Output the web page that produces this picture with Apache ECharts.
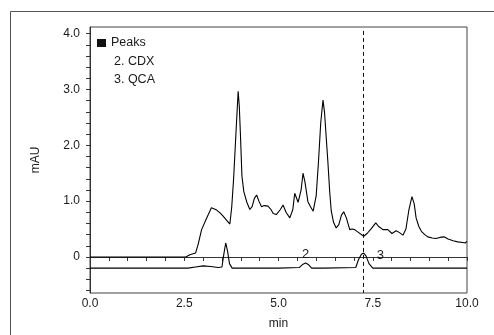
<!DOCTYPE html>
<html>
<head>
<meta charset="utf-8">
<script src="https://cdn.jsdelivr.net/npm/echarts@6/dist/echarts.min.js"></script>
<style>
  html, body { margin: 0; padding: 0; background: #fff; }
  #chart { width: 494px; height: 335px; }
</style>
</head>
<body>
<div id="chart"></div>
<script>
// upper trace (offset at 0 mAU)
const upperTime = [0, 2.54, 2.65, 2.8, 2.87, 2.96, 3.09, 3.22, 3.3, 3.36, 3.45, 3.53, 3.62, 3.71, 3.76, 3.81, 3.87,
  3.93, 3.96, 3.99, 4.03, 4.08, 4.16, 4.24, 4.3, 4.36, 4.42, 4.48, 4.55, 4.62, 4.72, 4.8, 4.86, 4.94, 5.05, 5.12,
  5.2, 5.3, 5.38, 5.43, 5.52, 5.6, 5.65, 5.7, 5.78, 5.85, 5.92, 6.0, 6.06, 6.12, 6.18, 6.22, 6.27, 6.31, 6.36,
  6.4, 6.46, 6.53, 6.6, 6.67, 6.73, 6.8, 6.89, 6.95, 7.02, 7.1, 7.15, 7.26, 7.35, 7.45, 7.58, 7.65, 7.77, 7.9,
  8.01, 8.12, 8.2, 8.3, 8.38, 8.46, 8.54, 8.6, 8.65, 8.72, 8.79, 8.88, 8.96, 9.08, 9.18, 9.28, 9.39, 9.5, 9.63,
  9.76, 9.89, 9.95, 10];
const upperAbs = [0, 0, 0.04, 0.07, 0.23, 0.49, 0.69, 0.88, 0.86, 0.84, 0.79, 0.73, 0.66, 0.59, 0.9, 1.41, 2.2,
  2.97, 2.7, 2.2, 1.45, 1.17, 0.98, 0.85, 0.9, 1.05, 1.11, 1.0, 0.9, 0.92, 0.91, 0.85, 0.78, 0.76, 0.85, 0.93,
  0.8, 0.7, 0.85, 1.14, 0.98, 1.2, 1.5, 1.35, 0.99, 0.9, 0.82, 1.1, 1.7, 2.4, 2.81, 2.6, 2.1, 1.7, 1.15,
  0.82, 0.62, 0.52, 0.58, 0.75, 0.81, 0.7, 0.49, 0.5, 0.49, 0.45, 0.43, 0.37, 0.42, 0.5, 0.61, 0.55, 0.49, 0.49,
  0.42, 0.47, 0.44, 0.39, 0.5, 0.85, 1.08, 0.95, 0.7, 0.55, 0.46, 0.4, 0.36, 0.34, 0.33, 0.35, 0.36, 0.32, 0.29,
  0.27, 0.26, 0.25, 0.28];

// lower trace (offset at -0.2 mAU)
const lowerTime = [0, 2.6, 2.8, 3.0, 3.2, 3.4, 3.5, 3.55, 3.6, 3.65, 3.7, 3.77, 3.85, 5.0, 5.55, 5.65, 5.72,
  5.8, 5.88, 6.2, 7.05, 7.12, 7.2, 7.26, 7.32, 7.4, 7.5, 10];
const lowerAbs = [-0.2, -0.2, -0.18, -0.16, -0.17, -0.19, -0.18, 0.05, 0.25, 0.1, -0.12, -0.2, -0.2, -0.2,
  -0.19, -0.13, -0.11, -0.14, -0.2, -0.2, -0.19, -0.05, 0.05, 0.07, 0.02, -0.12, -0.2, -0.2];

const peakNums = ['2', '3'];
const peakNames = ['2. CDX', '3. QCA'];
const peakLabelPos = [[5.72, 0.05], [7.7, 0.03]];
const markerTime = 7.25;

const xTicks = [];
for (let i = 0; i <= 20; i++) xTicks.push(i * 0.5);
const xLabels = [0, 2.5, 5, 7.5, 10];
const yTicks = [];
for (let i = -3; i <= 20; i++) yTicks.push(Math.round(i * 0.2 * 10) / 10);
const yLabels = [0, 1, 2, 3, 4];

const font = 'Liberation Sans, Arial, sans-serif';
const ink = '#1a1a1a';

const chart = echarts.init(document.getElementById('chart'));

const zip = (a, b) => a.map((t, i) => [t, b[i]]);

chart.setOption({
  backgroundColor: '#fff',
  animation: false,
  textStyle: { fontFamily: font },
  grid: { left: 90, right: 27, top: 27, bottom: 39, show: true, borderColor: '#444', borderWidth: 1 },
  xAxis: {
    type: 'value',
    min: 0,
    max: 10,
    name: 'min',
    nameLocation: 'middle',
    nameGap: 25,
    nameTextStyle: { color: ink, fontSize: 12, fontFamily: font },
    axisLine: { lineStyle: { color: '#333' } },
    axisTick: { customValues: xTicks, length: 4, lineStyle: { color: '#333' } },
    axisLabel: {
      customValues: xLabels,
      color: ink, fontSize: 12, fontFamily: font, margin: 5,
      formatter: (v) => v.toFixed(1)
    },
    splitLine: { show: false }
  },
  yAxis: {
    type: 'value',
    min: -0.646,
    max: 4.12,
    name: 'mAU',
    nameLocation: 'middle',
    nameGap: 48,
    nameTextStyle: { color: ink, fontSize: 12, fontFamily: font },
    axisLine: { show: true, lineStyle: { color: '#333' } },
    axisTick: { show: true, customValues: yTicks, length: 4, lineStyle: { color: '#333' } },
    axisLabel: {
      customValues: yLabels,
      color: ink, fontSize: 12, fontFamily: font, margin: 10,
      formatter: (v) => (v === 0 ? '0' : v.toFixed(1))
    },
    splitLine: { show: false }
  },
  series: [
    {
      name: 'upper',
      type: 'line',
      data: zip(upperTime, upperAbs),
      showSymbol: false,
      lineStyle: { color: '#000', width: 1.1 },
      markLine: {
        silent: true,
        symbol: 'none',
        label: { show: false },
        lineStyle: { color: '#111', width: 1, type: [4, 3] },
        data: [[{ coord: [markerTime, 4.05] }, { coord: [markerTime, -0.646] }]]
      }
    },
    {
      name: 'lower',
      type: 'line',
      data: zip(lowerTime, lowerAbs),
      showSymbol: false,
      lineStyle: { color: '#000', width: 1.1 },
      markPoint: {
        symbol: 'circle',
        symbolSize: 0,
        label: { show: true, color: ink, fontSize: 13, fontFamily: font, formatter: (p) => p.name },
        data: peakNums.map((n, i) => ({ name: n, coord: peakLabelPos[i] }))
      }
    }
  ],
  graphic: [
    { type: 'rect', shape: { x: 10.5, y: 11.5, width: 500, height: 340 }, style: { fill: 'none', stroke: '#555', lineWidth: 1 } },
    { type: 'rect', shape: { x: 97, y: 39, width: 9, height: 8 }, style: { fill: '#111' } },
    { type: 'text', x: 111, y: 43, style: { text: 'Peaks', font: '12.5px ' + font, fill: ink, verticalAlign: 'middle' } },
    { type: 'text', x: 114, y: 62, style: { text: peakNames[0], font: '12.5px ' + font, fill: ink, verticalAlign: 'middle' } },
    { type: 'text', x: 114, y: 80, style: { text: peakNames[1], font: '12.5px ' + font, fill: ink, verticalAlign: 'middle' } }
  ]
});
</script>
</body>
</html>
